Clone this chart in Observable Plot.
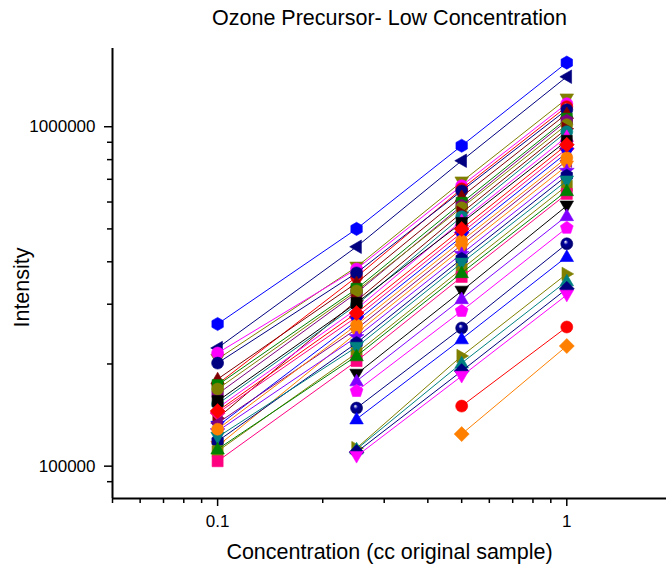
<!DOCTYPE html>
<html>
<head>
<meta charset="utf-8">
<script src="https://cdn.jsdelivr.net/npm/d3@7"></script>
<script src="https://cdn.jsdelivr.net/npm/@observablehq/plot@0.6"></script>
<style>
  html, body { margin: 0; padding: 0; background: #fff; }
</style>
</head>
<body>
<div id="chart"></div>
<script>
// Sample dilutions (cc of original sample)
const concentration = [0.1, 0.25, 0.5, 1];

// Peak intensity of each compound at each dilution (null = not detected)
const intensityAt0_1 = [262300, 222900, 206800, 215400, 174500, 201200, 180500, 173300, 163100, 168700,
  138500, 152400, 148300, 155500, 143300, 131200, 133900, 114600, 126800, 118500,
  110700, 121800, 103400, 112200, 128500, 145300, null, null, null, null,
  null, null, null, null, null, null, null];
const intensityAt0_25 = [500000, 443000, 386400, 381000, 361000, 371000, 346700, 333000, 324000, 328200,
  307000, 298500, 290400, 302600, 275100, 267800, 253600, 246800, 240100, 230600,
  215400, 224400, 204000, 211100, 260600, 282700, 186800, 178100, 166400, 148300,
  137600, 113000, 112200, 110000, 107000, null, null];
const intensityAt0_5 = [879000, 794000, 688400, 670000, 656000, 647000, 622000, 596800, 584800, 576900,
  558000, 543000, 528000, 520900, 487000, 474000, 448600, 436700, 422100, 408000,
  381000, 397000, 361000, 371000, 461000, 500000, 328200, 311000, 286600, 255300,
  236900, 211100, 201200, 190600, 184200, 150300, 124300];
const intensityAt1 = [1545000, 1404000, 1209000, 1169000, 1146000, 1122000, 1092000, 1056000, 1041000, 1014000,
  986500, 966600, 934400, 909000, 861000, 838000, 794000, 767400, 741600, 717000,
  670000, 693000, 634000, 647000, 810200, 885000, 584800, 546300, 503500, 452000,
  414000, 368500, 351000, 333000, 319400, 257000, 225900];

// Line / marker colour and marker shape of each compound
const seriesColor = ["#0000ff", "#000080", "#808000", "#ff00ff", "#ff0000", "#000080", "#800000", "#008000", "#800080", "#808000",
  "#800000", "#008080", "#ff00ff", "#000000", "#ff0080", "#0000ff", "#800080", "#ff8000", "#8000ff", "#000080",
  "#808000", "#008080", "#ff0080", "#008000", "#ff8000", "#ff0000", "#000000", "#8000ff", "#ff00ff", "#000080",
  "#0000ff", "#808000", "#008080", "#000080", "#ff00ff", "#ff0000", "#ff8000"];
const seriesSymbol = ["hexagon", "left", "down", "circle", "sphere", "circle", "up", "square", "hexagon", "circle",
  "right", "circle", "up", "square", "diamond", "down", "left", "down", "star", "hexagon",
  "square", "down", "square", "up", "circle", "diamond", "down", "up", "pentagon", "sphere",
  "up", "right", "up", "diamond", "down", "circle", "diamond"];

// Axis ticks
const xMajorTicks = [0.1, 1];
const xMinorTicks = [0.05, 0.06, 0.07, 0.08, 0.09, 0.2, 0.3, 0.4, 0.5, 0.6, 0.7, 0.8, 0.9];
const yMajorTicks = [100000, 1000000];
const yMinorTicks = [90000, 200000, 300000, 400000, 500000, 600000, 700000, 800000, 900000];

// Marker shapes, scaled from the dot radius
function polygon(points) {
  return {
    draw(ctx, size) {
      const r = Math.sqrt(size / Math.PI);
      points.forEach(([px, py], i) => (i ? ctx.lineTo(px * r, py * r) : ctx.moveTo(px * r, py * r)));
      ctx.closePath();
    }
  };
}
const regular = (n, rot, k) => d3.range(n).map((i) => {
  const a = rot + (i * 2 * Math.PI) / n;
  return [k * Math.sin(a), -k * Math.cos(a)];
});
const starPoints = d3.range(10).map((i) => {
  const a = (i * Math.PI) / 5, k = i % 2 ? 0.55 : 1.3;
  return [k * Math.sin(a), -k * Math.cos(a)];
});
const roundShape = {
  draw(ctx, size) {
    const r = Math.sqrt(size / Math.PI);
    ctx.moveTo(r, 0);
    ctx.arc(0, 0, r, 0, 2 * Math.PI);
  }
};
const shapes = {
  circle: roundShape,
  sphere: roundShape,
  square: polygon([[-0.92, -0.92], [0.92, -0.92], [0.92, 0.92], [-0.92, 0.92]]),
  up: polygon(regular(3, 0, 1.3).map(([px, py]) => [px, py + 0.15])),
  down: polygon(regular(3, Math.PI, 1.3).map(([px, py]) => [px, py - 0.15])),
  left: polygon(regular(3, -Math.PI / 2, 1.3).map(([px, py]) => [px + 0.15, py])),
  right: polygon(regular(3, Math.PI / 2, 1.3).map(([px, py]) => [px - 0.15, py])),
  diamond: polygon(regular(4, 0, 1.25)),
  hexagon: polygon(regular(6, 0, 1.1)),
  pentagon: polygon(regular(5, 0, 1.12)),
  star: polygon(starPoints)
};

const rows = [];
const columns = [intensityAt0_1, intensityAt0_25, intensityAt0_5, intensityAt1];
seriesColor.forEach((color, i) => {
  columns.forEach((col, j) => {
    if (col[i] != null) rows.push({series: i, x: concentration[j], y: col[i]});
  });
});

const font = "'Liberation Sans', Arial, sans-serif";
const marks = [];

// each compound: connecting line, then its markers
seriesColor.forEach((color, i) => {
  const pts = rows.filter((d) => d.series === i);
  const shape = seriesSymbol[i];
  marks.push(Plot.line(pts, {x: "x", y: "y", stroke: color, strokeWidth: 1}));
  marks.push(Plot.dot(pts, {
    x: "x", y: "y", r: 6,
    symbol: shapes[shape],
    fill: shape === "sphere" ? `url(#sphere-${i})` : color,
    stroke: color, strokeWidth: 0.6
  }));
});

// axes and titles
marks.push(
  Plot.axisX({ticks: xMajorTicks, tickSize: 8, tickPadding: 8, tickFormat: (d) => String(d), fontSize: 17, strokeWidth: 1.5, label: null}),
  Plot.axisX({ticks: xMinorTicks, tickSize: 5, tickFormat: () => "", strokeWidth: 1.5, label: null}),
  Plot.axisY({ticks: yMajorTicks, tickSize: 8, tickPadding: 9, tickFormat: (d) => String(d), fontSize: 17, strokeWidth: 1.5, label: null}),
  Plot.axisY({ticks: yMinorTicks, tickSize: 5, tickFormat: () => "", strokeWidth: 1.5, label: null}),
  Plot.ruleX([0.05], {stroke: "black", strokeWidth: 2}),
  Plot.ruleY([80300], {stroke: "black", strokeWidth: 2}),
  Plot.text(["Ozone Precursor- Low Concentration"], {
    frameAnchor: "top", textAnchor: "middle", lineAnchor: "middle", dy: -30, fontSize: 21.5, fill: "black"
  }),
  Plot.text(["Concentration (cc original sample)"], {
    frameAnchor: "bottom", textAnchor: "middle", lineAnchor: "middle", dy: 54, fontSize: 21.5, fill: "black"
  }),
  Plot.text(["Intensity"], {
    frameAnchor: "left", textAnchor: "middle", lineAnchor: "middle", dx: -90, dy: 14, rotate: -90, fontSize: 21.5, fill: "black"
  })
);

const chart = Plot.plot({
  width: 666,
  height: 574,
  marginLeft: 112,
  marginRight: 0,
  marginTop: 48,
  marginBottom: 76,
  style: {fontFamily: font, color: "black", background: "white", overflow: "visible"},
  x: {type: "log", domain: [0.05, 1.93]},
  y: {type: "log", domain: [80300, 1700000]},
  marks
});

// shaded fills for the ball-shaped markers
const defs = d3.select(chart).insert("defs", ":first-child");
seriesSymbol.forEach((shape, i) => {
  if (shape !== "sphere") return;
  const base = d3.color(seriesColor[i]);
  const g = defs.append("radialGradient").attr("id", `sphere-${i}`)
    .attr("cx", 0.5).attr("cy", 0.5).attr("r", 0.55).attr("fx", 0.38).attr("fy", 0.32);
  g.append("stop").attr("offset", "0%").attr("stop-color", "#ffffff");
  g.append("stop").attr("offset", "35%").attr("stop-color", base.brighter(0.6).formatHex());
  g.append("stop").attr("offset", "100%").attr("stop-color", base.darker(0.8).formatHex());
});

document.getElementById("chart").appendChild(chart);
</script>
</body>
</html>
